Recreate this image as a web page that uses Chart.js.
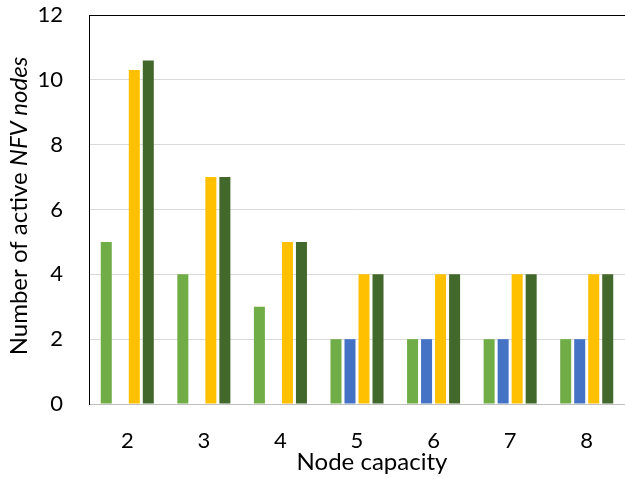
<!DOCTYPE html>
<html>
<head>
<meta charset="utf-8">
<script src="https://cdn.jsdelivr.net/npm/chart.js@4/dist/chart.umd.min.js"></script>
<style>
html,body{margin:0;padding:0;background:#fff;}
#wrap{width:625px;height:479px;}
</style>
</head>
<body>
<div id="wrap"><canvas id="c" width="625" height="479"></canvas></div>
<script>
const categories = ['2', '3', '4', '5', '6', '7', '8'];
const seriesLightGreen = [5, 4, 3, 2, 2, 2, 2];
const seriesBlue = [null, null, null, 2, 2, 2, 2];
const seriesYellow = [10.3, 7, 5, 4, 4, 4, 4];
const seriesDarkGreen = [10.6, 7, 5, 4, 4, 4, 4];
const yMin = 0, yMax = 12, yStep = 2;
const xTitle = 'Node capacity';
const yTitleParts = [['Number of active ', false], ['NFV nodes', true]];

const FONT = 'Lato, "Open Sans", sans-serif';
const FS = 22;
const TFS = 24;

const decor = {
  id: 'decor',
  afterDraw(chart) {
    const ctx = chart.ctx, a = chart.chartArea;
    ctx.save();
    ctx.strokeStyle = '#000';
    ctx.lineWidth = 1;
    ctx.beginPath();
    ctx.moveTo(a.left, a.top + 0.5);
    ctx.lineTo(chart.width, a.top + 0.5);
    ctx.stroke();
    ctx.fillStyle = '#000';
    ctx.font = TFS + 'px ' + FONT;
    ctx.textAlign = 'center';
    ctx.textBaseline = 'middle';
    ctx.fillText(xTitle, 372, 462);
    ctx.translate(19, 206);
    ctx.rotate(-Math.PI / 2);
    let total = 0;
    const widths = yTitleParts.map(([t, it]) => {
      ctx.font = (it ? 'italic ' : '') + TFS + 'px ' + FONT;
      const w = ctx.measureText(t).width; total += w; return w;
    });
    let x = -total / 2;
    ctx.textAlign = 'left';
    yTitleParts.forEach(([t, it], i) => {
      ctx.font = (it ? 'italic ' : '') + TFS + 'px ' + FONT;
      ctx.fillText(t, x, 0);
      x += widths[i];
    });
    ctx.restore();
  }
};

new Chart(document.getElementById('c'), {
  type: 'bar',
  data: {
    labels: categories,
    datasets: [
      { label: 'A', data: seriesLightGreen, backgroundColor: '#70AD47' },
      { label: 'B', data: seriesBlue, backgroundColor: '#4472C4' },
      { label: 'C', data: seriesYellow, backgroundColor: '#FFC000' },
      { label: 'D', data: seriesDarkGreen, backgroundColor: '#43682B' }
    ]
  },
  options: {
    responsive: false,
    devicePixelRatio: 1,
    animation: false,
    datasets: { bar: { categoryPercentage: 0.732, barPercentage: 0.786 } },
    layout: { padding: { top: 15, right: 0, left: 0, bottom: 0 } },
    plugins: { legend: { display: false }, tooltip: { enabled: false } },
    scales: {
      x: {
        grid: { display: false, drawTicks: false },
        border: { display: true, color: '#BFBFBF', width: 1 },
        ticks: { color: '#000', font: { family: FONT, size: FS }, padding: 24 },
        afterFit(s) { s.height = 75; s.paddingLeft = 0; s.paddingRight = 0; }
      },
      y: {
        min: yMin, max: yMax,
        grid: { color: '#D9D9D9', drawTicks: false },
        border: { display: true, color: '#000', width: 1 },
        ticks: { stepSize: yStep, color: '#000', font: { family: FONT, size: FS }, padding: 26 },
        afterFit(s) { s.width = 89; s.paddingTop = 0; s.paddingBottom = 0; }
      }
    }
  },
  plugins: [decor]
});
</script>
</body>
</html>
